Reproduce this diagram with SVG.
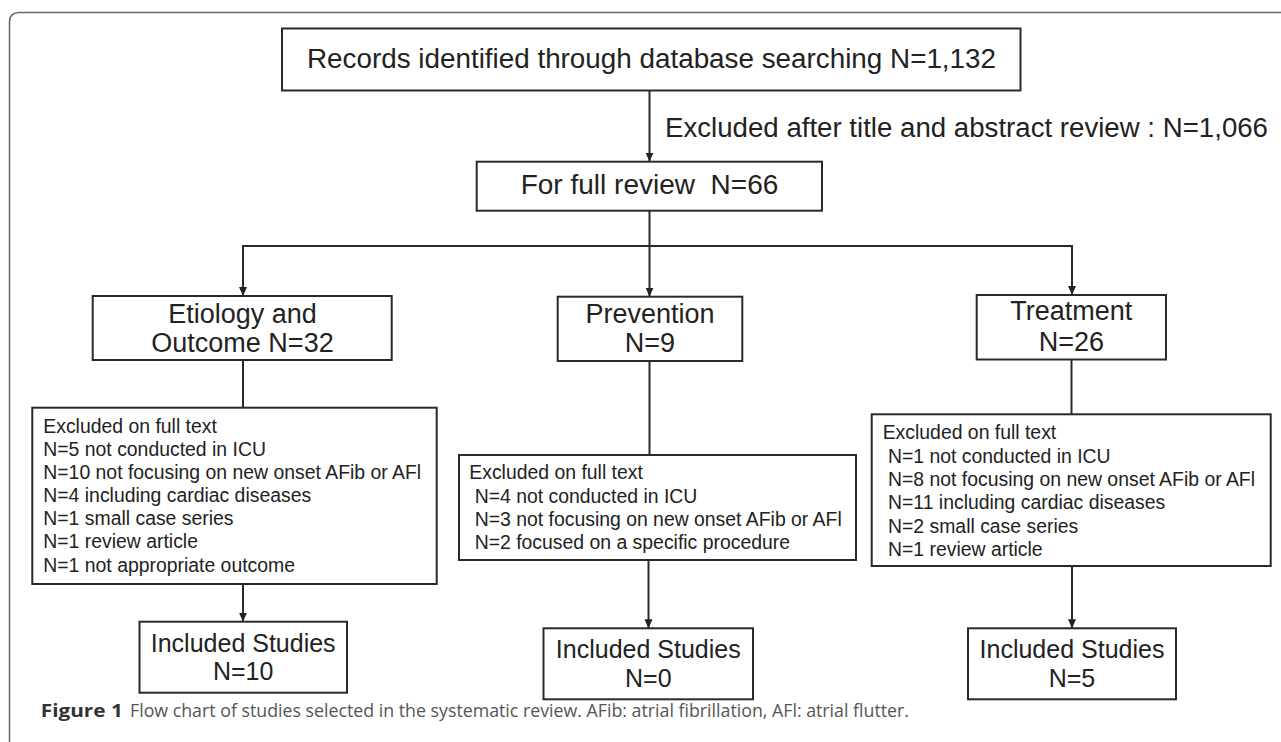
<svg xmlns="http://www.w3.org/2000/svg" width="1281" height="742" viewBox="0 0 1281 742">
<defs>
<marker id="ah" markerUnits="userSpaceOnUse" markerWidth="10" markerHeight="8" refX="9" refY="4" orient="auto" viewBox="0 0 10 8">
<path d="M0,0 L9,4 L0,8 Z" fill="#222"/>
</marker>
<style>
.box{fill:#fff;stroke:#2a2a2a;stroke-width:2}
.ln{fill:none;stroke:#2a2a2a;stroke-width:2}
.big{font-family:"Liberation Sans",Arial,sans-serif;font-size:27px;fill:#222}
.mid{font-family:"Liberation Sans",Arial,sans-serif;font-size:25px;fill:#222}
.sm{font-family:"Liberation Sans",Arial,sans-serif;font-size:19.4px;fill:#222}
.cap{font-family:"Open Sans","Noto Sans",sans-serif;font-size:17.5px;fill:#555}
.capb{font-family:"Open Sans","Noto Sans",sans-serif;font-size:17.5px;font-weight:bold;fill:#333}
.c{text-anchor:middle}
</style>
</defs>
<rect width="1281" height="742" fill="#fff"/>
<path d="M9.5,742 V22 Q9.5,12.5 19,12.5 H1281" fill="none" stroke="#666" stroke-width="1.5"/>

<g id="connectors">
<line class="ln" x1="649.5" y1="91" x2="649.5" y2="161.7" marker-end="url(#ah)"/>
<line class="ln" x1="649.5" y1="210.7" x2="649.5" y2="246"/>
<line class="ln" x1="242" y1="246" x2="1073" y2="246"/>
<line class="ln" x1="243" y1="246" x2="243" y2="296" marker-end="url(#ah)"/>
<line class="ln" x1="649.5" y1="246" x2="649.5" y2="296.7" marker-end="url(#ah)"/>
<line class="ln" x1="1072" y1="246" x2="1072" y2="295" marker-end="url(#ah)"/>
<line class="ln" x1="243" y1="360" x2="243" y2="407.7"/>
<line class="ln" x1="649.5" y1="361" x2="649.5" y2="455"/>
<line class="ln" x1="1071.5" y1="359.5" x2="1071.5" y2="414.3"/>
<line class="ln" x1="243" y1="584" x2="243" y2="621.7" marker-end="url(#ah)"/>
<line class="ln" x1="648.5" y1="560" x2="648.5" y2="628.3" marker-end="url(#ah)"/>
<line class="ln" x1="1072" y1="566" x2="1072" y2="628.3" marker-end="url(#ah)"/>
</g>

<g id="n-records">
<rect class="box" x="282" y="28.5" width="738.5" height="62"/>
<text class="big" x="307" y="68.3" font-size="26" textLength="689" lengthAdjust="spacingAndGlyphs">Records identified through database searching N=1,132</text>
</g>

<g id="l-excluded-title">
<text class="big" x="665" y="137" textLength="603" lengthAdjust="spacingAndGlyphs">Excluded after title and abstract review : N=1,066</text>
</g>

<g id="n-fullreview">
<rect class="box" x="476.7" y="161.7" width="345.3" height="49"/>
<text class="big" x="520.7" y="194" font-size="26" textLength="257.6" lengthAdjust="spacingAndGlyphs">For full review&#160; N=66</text>
</g>

<g id="n-etiology">
<rect class="box" x="92.7" y="296" width="299" height="64"/>
<text class="big c" x="242.5" y="322.7">Etiology and</text>
<text class="big c" x="242.5" y="351.7">Outcome N=32</text>
</g>

<g id="n-prevention">
<rect class="box" x="557.7" y="296.7" width="184.6" height="64.3"/>
<text class="big c" x="650" y="322.7">Prevention</text>
<text class="big c" x="650" y="351.7">N=9</text>
</g>

<g id="n-treatment">
<rect class="box" x="976.7" y="295" width="189.3" height="64.5"/>
<text class="big c" x="1071.3" y="320">Treatment</text>
<text class="big c" x="1071.3" y="350.7">N=26</text>
</g>

<g id="n-excl-etiology">
<rect class="box" x="32.3" y="407.7" width="404.4" height="176.3"/>
<text class="sm" x="43.3" y="432.7">Excluded on full text</text>
<text class="sm" x="43.3" y="455.8">N=5 not conducted in ICU</text>
<text class="sm" x="43.3" y="478.9">N=10 not focusing on new onset AFib or AFl</text>
<text class="sm" x="43.3" y="502">N=4 including cardiac diseases</text>
<text class="sm" x="43.3" y="525.2">N=1 small case series</text>
<text class="sm" x="43.3" y="548.4">N=1 review article</text>
<text class="sm" x="43.3" y="571.6">N=1 not appropriate outcome</text>
</g>

<g id="n-excl-prevention">
<rect class="box" x="459" y="455" width="397" height="105"/>
<text class="sm" x="469.3" y="479.3">Excluded on full text</text>
<text class="sm" x="474.7" y="502.7">N=4 not conducted in ICU</text>
<text class="sm" x="474.7" y="526">N=3 not focusing on new onset AFib or AFl</text>
<text class="sm" x="474.7" y="549.3">N=2 focused on a specific procedure</text>
</g>

<g id="n-excl-treatment">
<rect class="box" x="871.7" y="414.3" width="399" height="151.7"/>
<text class="sm" x="882.7" y="438.5">Excluded on full text</text>
<text class="sm" x="888" y="462.7">N=1 not conducted in ICU</text>
<text class="sm" x="888" y="486">N=8 not focusing on new onset AFib or AFl</text>
<text class="sm" x="888" y="509.3">N=11 including cardiac diseases</text>
<text class="sm" x="888" y="532.7">N=2 small case series</text>
<text class="sm" x="888" y="556">N=1 review article</text>
</g>

<g id="n-incl-etiology">
<rect class="box" x="139.5" y="621.7" width="207.5" height="71"/>
<text class="mid c" x="243.2" y="651.7">Included Studies</text>
<text class="mid c" x="243.2" y="680">N=10</text>
</g>

<g id="n-incl-prevention">
<rect class="box" x="543.5" y="628.3" width="209.5" height="71"/>
<text class="mid c" x="648.3" y="658.3">Included Studies</text>
<text class="mid c" x="648.3" y="686.6">N=0</text>
</g>

<g id="n-incl-treatment">
<rect class="box" x="968" y="628.3" width="208" height="71"/>
<text class="mid c" x="1072" y="658.3">Included Studies</text>
<text class="mid c" x="1072" y="686.6">N=5</text>
</g>

<g id="caption">
<text class="capb" x="40.8" y="717.3" textLength="82" lengthAdjust="spacingAndGlyphs">Figure 1</text>
<text class="cap" x="130" y="717.3" textLength="779" lengthAdjust="spacingAndGlyphs">Flow chart of studies selected in the systematic review. AFib: atrial fibrillation, AFl: atrial flutter.</text>
</g>
</svg>
